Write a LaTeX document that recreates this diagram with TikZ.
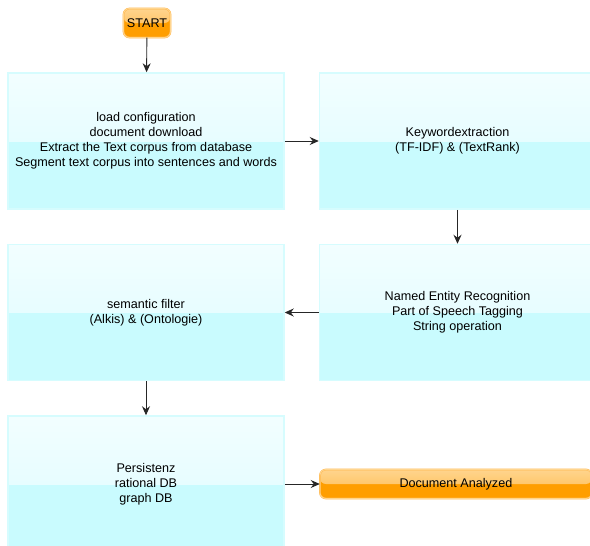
\documentclass[tikz,border=0pt]{standalone}
\usepackage{fontspec}
\setmainfont{Liberation Sans}
\usepackage{xcolor}
\usepackage{tikz}
\usetikzlibrary{shapes, arrows, arrows.meta, positioning, calc}
\definecolor{boxhi}{HTML}{F2FEFF}
\definecolor{boxtop}{HTML}{DCFCFE}
\definecolor{boxbot}{HTML}{C9FBFE}
\definecolor{boxline}{HTML}{D6FCFE}
\definecolor{orhi}{HTML}{FFD58E}
\definecolor{ortop}{HTML}{FFB84A}
\definecolor{orbot}{HTML}{FF9E00}
\definecolor{orline}{HTML}{FFB547}
\tikzset{
    process/.style={
        rectangle,
        draw=boxline,
        line width=1.5pt,
        fill=boxbot,
        minimum width=276pt,
        minimum height=136pt,
        align=center,
        font=\fontsize{12.6}{15}\selectfont,
        path picture={
            \shade[top color=boxhi, bottom color=boxtop]
                (path picture bounding box.north west) rectangle
                (path picture bounding box.east);
        },
    },
    terminal/.style={
        rectangle,
        rounded corners=6pt,
        draw=orline,
        double=orhi,
        double distance=0.9pt,
        fill=orbot,
        minimum height=29pt,
        align=center,
        font=\fontsize{12.6}{14}\selectfont,
        path picture={
            \shade[top color=orhi, bottom color=ortop]
                (path picture bounding box.north west) rectangle
                (path picture bounding box.east);
        },
    },
    flow/.style={->, line width=0.9pt, black!85},
}

\begin{document}
\begin{tikzpicture}[x=1pt,y=-1pt,node distance=34pt and 34pt,
    >={Stealth[length=9pt,width=8pt,inset=3pt]}]
      \useasboundingbox (0,0) rectangle (590,546);

      \node [process] (load) at (146,141) {load configuration\\document download\\Extract the Text corpus from database\\Segment text corpus into sentences and words};
      \node [terminal, minimum width=47pt] (start) at (147,23) {START};

      \node [process] (keyword) [right=of load] {Keywordextraction\\(TF-IDF) \& (TextRank)};
      \node [process] (ner) [below=of keyword] {Named Entity Recognition\\Part of Speech Tagging\\String operation};
      \node [process] (filter) [below=of load] {semantic filter\\(Alkis) \& (Ontologie)};
      \node [process] (persist) [below=of filter] {Persistenz\\rational DB\\graph DB};

      \node [terminal, minimum width=272pt, anchor=west] (done) at ($(persist.east)+(35,0)$) {Document Analyzed};

      \draw[flow] (start) -- (load);
      \draw[flow] (load) -- (keyword);
      \draw[flow] (keyword) -- (ner);
      \draw[flow] (ner) -- (filter);
      \draw[flow] (filter) -- (persist);
      \draw[flow] (persist) -- (done);

    \end{tikzpicture}
\end{document}
